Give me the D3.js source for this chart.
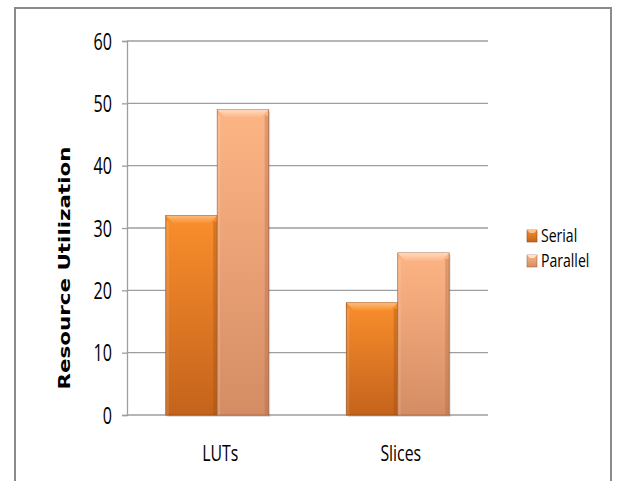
<!DOCTYPE html>
<html>
<head>
<meta charset="utf-8">
<script src="https://d3js.org/d3.v7.min.js"></script>
<style>
  body { margin: 0; background: #fff; }
  text { font-family: "Open Sans", "Noto Sans", sans-serif; fill: #000; }
</style>
</head>
<body>
<div id="chart"></div>
<script>

// data
const categories = ["LUTs", "Slices"];
const seriesNames = ["Serial", "Parallel"];
const serial = [32, 18];
const parallel = [49, 26];
const yTicks = [0, 10, 20, 30, 40, 50, 60];

const W = 618, H = 481;
const plot = {left: 127, right: 488, top: 41, bottom: 415};

// the source picture is squeezed sideways, so narrow the glyphs
function squeeze(sel, k) {
  sel.each(function() {
    const len = this.getComputedTextLength();
    d3.select(this).attr("textLength", len * k).attr("lengthAdjust", "spacingAndGlyphs");
  });
}

const svg = d3.select("#chart").append("svg")
    .attr("width", W)
    .attr("height", H);

// gradients for the bevelled office-style bars
const defs = svg.append("defs");
const palettes = {
  Serial:   {top: "#f98e2c", bottom: "#c4631c", edge: "#9a4c14", light: "#fcc48c"},
  Parallel: {top: "#feb585", bottom: "#d48c64", edge: "#a8694a", light: "#ffe2c8"}
};
seriesNames.forEach(s => {
  const g = defs.append("linearGradient").attr("id", "grad-" + s)
      .attr("x1", 0).attr("y1", 0).attr("x2", 0).attr("y2", 1);
  g.append("stop").attr("offset", "0%").attr("stop-color", palettes[s].top);
  g.append("stop").attr("offset", "100%").attr("stop-color", palettes[s].bottom);
  const t = defs.append("linearGradient").attr("id", "hl-" + s)
      .attr("x1", 0).attr("y1", 0).attr("x2", 0).attr("y2", 1);
  t.append("stop").attr("offset", "0%").attr("stop-color", palettes[s].light);
  t.append("stop").attr("offset", "100%").attr("stop-color", palettes[s].top);
});

// outer frame
svg.append("rect")
    .attr("x", 15).attr("y", 8)
    .attr("width", 596).attr("height", 490)
    .attr("fill", "none")
    .attr("stroke", "#8a8a8a")
    .attr("stroke-width", 2);

// scales
const x0 = d3.scaleBand()
    .domain(categories)
    .range([plot.left, plot.right])
    .paddingInner(0.43)
    .paddingOuter(0.215);

const x1 = d3.scaleBand()
    .domain(seriesNames)
    .range([0, x0.bandwidth()]);

const y = d3.scaleLinear()
    .domain([0, 60])
    .range([plot.bottom, plot.top]);

// gridlines
svg.append("g")
  .selectAll("line")
  .data(yTicks.filter(d => d > 0))
  .join("line")
    .attr("x1", plot.left).attr("x2", plot.right)
    .attr("y1", d => y(d)).attr("y2", d => y(d))
    .attr("stroke", "#9e9e9e")
    .attr("stroke-width", 1.3);

// y axis
const yAxis = svg.append("g")
    .attr("transform", `translate(${plot.left},0)`)
    .call(d3.axisLeft(y).tickValues(yTicks).tickSize(5).tickPadding(10));
yAxis.select(".domain").attr("stroke", "#9e9e9e").attr("stroke-width", 1.3);
yAxis.selectAll(".tick line").attr("stroke", "#9e9e9e").attr("stroke-width", 1.3);
yAxis.selectAll(".tick text")
    .attr("font-family", null)
    .attr("font-size", null)
    .style("font-size", "23px")
    .attr("dy", "0.36em")
    .attr("fill", "#000")
    .call(squeeze, 0.7);

// x axis line
svg.append("line")
    .attr("x1", plot.left).attr("x2", plot.right)
    .attr("y1", y(0)).attr("y2", y(0))
    .attr("stroke", "#9e9e9e").attr("stroke-width", 1.3);

// category labels
svg.append("g")
  .selectAll("text")
  .data(categories)
  .join("text")
    .attr("x", d => x0(d) + x0.bandwidth() / 2 + 3)
    .attr("y", 461)
    .attr("text-anchor", "middle")
    .style("font-size", "22px")
    .text(d => d)
    .call(squeeze, 0.72);

// bars
const rows = categories.map((c, i) => ({cat: c, values: [
  {s: "Serial", v: serial[i]},
  {s: "Parallel", v: parallel[i]}
]}));

const groups = svg.append("g")
  .selectAll("g")
  .data(rows)
  .join("g")
    .attr("transform", d => `translate(${x0(d.cat)},0)`);

const bars = groups.selectAll("g")
  .data(d => d.values)
  .join("g")
    .attr("transform", d => `translate(${x1(d.s)},0)`);

// shadow
bars.append("rect")
    .attr("x", 1.5)
    .attr("y", d => y(d.v) + 2)
    .attr("width", x1.bandwidth())
    .attr("height", d => y(0) - y(d.v))
    .attr("fill", "#000")
    .attr("opacity", 0.12);

bars.append("rect")
    .attr("x", 0)
    .attr("y", d => y(d.v))
    .attr("width", x1.bandwidth())
    .attr("height", d => y(0) - y(d.v))
    .attr("fill", d => `url(#grad-${d.s})`)
    .attr("stroke", d => palettes[d.s].edge)
    .attr("stroke-width", 0.8);

// bevel: top highlight trapezoid
bars.append("path")
    .attr("d", d => {
      const w = x1.bandwidth(), t = y(d.v), b = 8;
      return `M0,${t} L${w},${t} L${w - b},${t + b} L${b},${t + b} Z`;
    })
    .attr("fill", d => `url(#hl-${d.s})`)
    .attr("opacity", 0.85);

// bevel: side edges
bars.append("rect")
    .attr("x", d => x1.bandwidth() - 4)
    .attr("y", d => y(d.v) + 6)
    .attr("width", 4)
    .attr("height", d => y(0) - y(d.v) - 6)
    .attr("fill", d => palettes[d.s].edge)
    .attr("opacity", 0.35);
bars.append("rect")
    .attr("x", 0)
    .attr("y", d => y(d.v) + 6)
    .attr("width", 3)
    .attr("height", d => y(0) - y(d.v) - 6)
    .attr("fill", "#fff")
    .attr("opacity", 0.12);

// y title
svg.append("text")
    .attr("transform", "translate(70,268) rotate(-90)")
    .attr("text-anchor", "middle")
    .style("font-family", "'DejaVu Sans', Verdana, sans-serif")
    .style("font-weight", "bold")
    .style("font-size", "15px")
    .attr("textLength", 243)
    .attr("lengthAdjust", "spacingAndGlyphs")
    .text("Resource Utilization");

// legend
const legend = svg.append("g")
  .selectAll("g")
  .data(seriesNames)
  .join("g")
    .attr("transform", (d, i) => `translate(527,${230 + i * 25})`);

legend.append("rect")
    .attr("width", 10).attr("height", 12)
    .attr("fill", d => `url(#grad-${d})`)
    .attr("stroke", d => palettes[d].edge)
    .attr("stroke-width", 0.6);
legend.append("path")
    .attr("d", "M0,0 L10,0 L7,3 L3,3 Z")
    .attr("fill", d => palettes[d].light);

legend.append("text")
    .attr("x", 14)
    .attr("y", 12)
    .style("font-size", "18px")
    .text(d => d)
    .call(squeeze, 0.78);

</script>
</body>
</html>
